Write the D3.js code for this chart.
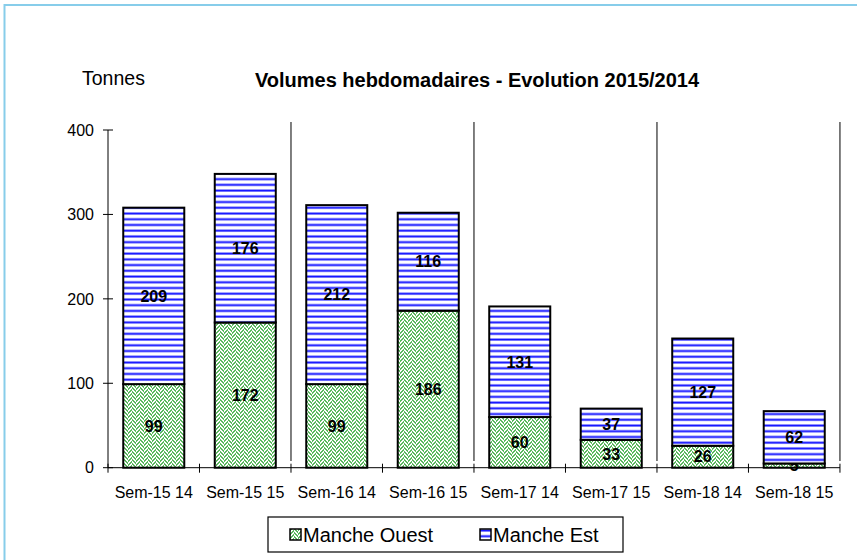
<!DOCTYPE html>
<html>
<head>
<meta charset="utf-8">
<script src="https://cdn.jsdelivr.net/npm/d3@7"></script>
<style>
	body { margin: 0; background: #fff; }
	svg { display: block; font-family: "Liberation Sans", Arial, sans-serif; }
</style>
</head>
<body>
<div id="chart"></div>
<script>

const categories = ["Sem-15 14", "Sem-15 15", "Sem-16 14", "Sem-16 15", "Sem-17 14", "Sem-17 15", "Sem-18 14", "Sem-18 15"]
const mancheOuest = [99, 172, 99, 186, 60, 33, 26, 5]
const mancheEst = [209, 176, 212, 116, 131, 37, 127, 62]
const seriesNames = ["Manche Ouest", "Manche Est"]
const yTicks = [0, 100, 200, 300, 400]

const width = 857;
const height = 560;
const plot = { left: 108, right: 840, top: 130, bottom: 467.7 };

const svg = d3.select("#chart").append("svg")
	.attr("width", width)
	.attr("height", height)

// patterns
const defs = svg.append("defs")

const weave = defs.append("pattern")
	.attr("id", "pat-ouest")
	.attr("patternUnits", "userSpaceOnUse")
	.attr("width", 8)
	.attr("height", 8)
weave.append("rect").attr("width", 8).attr("height", 8).attr("fill", "#fff")
// zigzag weave, roughly half green
for (let j = 0; j < 8; j++) {
	for (let i = 0; i < 8; i++) {
		const on = i < 4 ? (i + j) % 4 < 2 : (i - j + 8) % 4 < 2
		if (on) {
			weave.append("rect")
				.attr("x", i).attr("y", j)
				.attr("width", 1).attr("height", 1)
				.attr("fill", "#5cb860")
		}
	}
}

const stripes = defs.append("pattern")
	.attr("id", "pat-est")
	.attr("patternUnits", "userSpaceOnUse")
	.attr("width", 8)
	.attr("height", 5.73)
stripes.append("rect").attr("width", 8).attr("height", 5.73).attr("fill", "#fff")
stripes.append("rect").attr("y", 0.5).attr("width", 8).attr("height", 2).attr("fill", "#1414ff")

// chart border
svg.append("rect")
	.attr("x", 4.5)
	.attr("y", 5)
	.attr("width", width + 10)
	.attr("height", height + 10)
	.attr("fill", "none")
	.attr("stroke", "#87cdea")
	.attr("stroke-width", 2)

// scales
const x = d3.scaleBand()
	.domain(categories)
	.range([plot.left, plot.right])
	.paddingInner(0.333)
	.paddingOuter(0.1667)

const y = d3.scaleLinear()
	.domain([0, 400])
	.range([plot.bottom, plot.top])

// week separators
const sepIdx = [2, 4, 6, 8]
svg.append("g")
	.selectAll("line")
	.data(sepIdx)
	.join("line")
	.attr("x1", i => plot.left + x.step() * i)
	.attr("x2", i => plot.left + x.step() * i)
	.attr("y1", 122)
	.attr("y2", 461)
	.attr("stroke", "#000")
	.attr("stroke-width", 1)

// stacked bars
const rows = categories.map((c, i) => ({ cat: c, ouest: mancheOuest[i], est: mancheEst[i] }))
const stacked = d3.stack().keys(["ouest", "est"])(rows)
const fills = { ouest: "url(#pat-ouest)", est: "url(#pat-est)" }

const layers = svg.append("g")
	.selectAll("g")
	.data(stacked)
	.join("g")

layers.selectAll("rect")
	.data(d => d.map(v => ({ key: d.key, v })))
	.join("rect")
	.attr("x", d => x(d.v.data.cat))
	.attr("y", d => y(d.v[1]))
	.attr("width", x.bandwidth())
	.attr("height", d => y(d.v[0]) - y(d.v[1]))
	.attr("fill", d => fills[d.key])
	.attr("stroke", "#000")
	.attr("stroke-width", 2)

// value labels
layers.selectAll("text")
	.data(d => d.map(v => ({ key: d.key, v })))
	.join("text")
	.attr("x", d => x(d.v.data.cat) + x.bandwidth() / 2)
	.attr("y", d => y((d.v[0] + d.v[1]) / 2))
	.attr("dy", "0.36em")
	.attr("text-anchor", "middle")
	.attr("font-size", 16)
	.attr("font-weight", "bold")
	.text(d => d.v.data[d.key])

// y axis
const yAxis = svg.append("g")
yAxis.append("line")
	.attr("x1", plot.left).attr("x2", plot.left)
	.attr("y1", y(400)).attr("y2", y(0))
	.attr("stroke", "#000")
yAxis.selectAll("line.tick")
	.data(yTicks)
	.join("line")
	.attr("class", "tick")
	.attr("x1", plot.left - 5).attr("x2", plot.left + 5)
	.attr("y1", d => y(d)).attr("y2", d => y(d))
	.attr("stroke", "#000")
yAxis.selectAll("text")
	.data(yTicks)
	.join("text")
	.attr("x", plot.left - 14)
	.attr("y", d => y(d))
	.attr("dy", "0.36em")
	.attr("text-anchor", "end")
	.attr("font-size", 16)
	.text(d => d)

// x axis
const xAxis = svg.append("g")
xAxis.append("line")
	.attr("x1", plot.left).attr("x2", plot.right)
	.attr("y1", plot.bottom).attr("y2", plot.bottom)
	.attr("stroke", "#000")
xAxis.selectAll("line.tick")
	.data(d3.range(categories.length + 1))
	.join("line")
	.attr("class", "tick")
	.attr("x1", i => plot.left + x.step() * i)
	.attr("x2", i => plot.left + x.step() * i)
	.attr("y1", plot.bottom - 4).attr("y2", plot.bottom + 5)
	.attr("stroke", "#000")
xAxis.selectAll("text")
	.data(categories)
	.join("text")
	.attr("x", d => x(d) + x.bandwidth() / 2)
	.attr("y", 498)
	.attr("text-anchor", "middle")
	.attr("font-size", 16)
	.text(d => d)

// titles
svg.append("text")
	.attr("x", 82)
	.attr("y", 85)
	.attr("font-size", 19.5)
	.text("Tonnes")

svg.append("text")
	.attr("x", 477)
	.attr("y", 87)
	.attr("text-anchor", "middle")
	.attr("font-size", 20)
	.attr("font-weight", "bold")
	.text("Volumes hebdomadaires - Evolution 2015/2014")

// legend
const legend = svg.append("g")
legend.append("rect")
	.attr("x", 268).attr("y", 517)
	.attr("width", 355).attr("height", 35)
	.attr("fill", "#fff")
	.attr("stroke", "#000")
	.attr("stroke-width", 1.2)

const legendX = [290, 480]
const legendItems = legend.selectAll("g")
	.data(seriesNames)
	.join("g")
	.attr("transform", (d, i) => `translate(${legendX[i]}, 529)`)
legendItems.append("rect")
	.attr("width", 11).attr("height", 11)
	.attr("fill", (d, i) => i === 0 ? "url(#pat-ouest)" : "url(#pat-est)")
	.attr("stroke", "#000")
	.attr("stroke-width", 1.5)
legendItems.append("text")
	.attr("x", 13)
	.attr("y", 13)
	.attr("font-size", 20)
	.text(d => d)

</script>
</body>
</html>
